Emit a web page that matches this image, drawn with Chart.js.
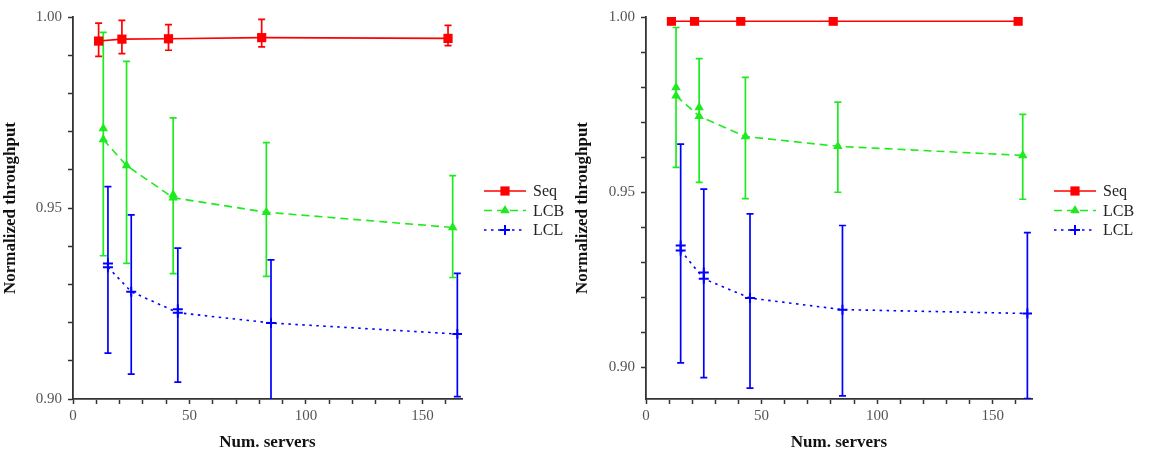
<!DOCTYPE html>
<html>
<head>
<meta charset="utf-8">
<script src="https://cdn.jsdelivr.net/npm/chart.js@4/dist/chart.umd.min.js"></script>
<style>
body{margin:0;background:#fff;width:1149px;height:453px;position:relative;overflow:hidden}
.panel{position:absolute;top:0;width:568px;height:453px}
</style>
</head>
<body>
<div class="panel" style="left:0"><canvas id="left" width="568" height="453"></canvas></div>
<div class="panel" style="left:570px"><canvas id="right" width="568" height="453"></canvas></div>
<script>
// x positions (servers), each series shifted a bit so the error bars don't overlap
const seqX = [11, 21, 41, 81, 161]
const lcbX = [13, 23, 43, 83, 163]
const lclX = [15, 25, 45, 85, 165]
const seriesNames = ['Seq', 'LCB', 'LCL']
const xTicks = [0, 50, 100, 150]

// left panel
const leftSeq = [0.9937, 0.9942, 0.9943, 0.9946, 0.9944]
const leftSeqLo = [0.9897, 0.9904, 0.9913, 0.9922, 0.9925]
const leftSeqHi = [0.9984, 0.9991, 0.9980, 0.9994, 0.9978]
const leftLcb = [0.9679, 0.9611, 0.9527, 0.9489, 0.9449]
const leftLcbExtra = [0.9708, null, 0.9535, null, null]
const leftLcbLo = [0.9375, 0.9355, 0.9328, 0.9321, 0.9318]
const leftLcbHi = [0.9960, 0.9884, 0.9736, 0.9671, 0.9585]
const leftLcl = [0.9345, 0.9281, 0.9226, 0.9199, 0.9170]
const leftLclExtra = [0.9355, null, 0.9235, null, null]
const leftLclLo = [0.9120, 0.9065, 0.9044, 0.8990, 0.9006]
const leftLclHi = [0.9556, 0.9482, 0.9395, 0.9364, 0.9329]

// right panel
const rightSeq = [0.9988, 0.9988, 0.9988, 0.9988, 0.9988]
const rightSeqLo = [0.9986, 0.9986, 0.9986, 0.9986, 0.9986]
const rightSeqHi = [0.9990, 0.9990, 0.9990, 0.9990, 0.9990]
const rightLcb = [0.9775, 0.9717, 0.9659, 0.9631, 0.9605]
const rightLcbExtra = [0.9799, 0.9742, null, null, null]
const rightLcbLo = [0.9571, 0.9528, 0.9482, 0.9500, 0.9480]
const rightLcbHi = [0.9970, 0.9881, 0.9828, 0.9757, 0.9722]
const rightLcl = [0.9334, 0.9253, 0.9198, 0.9165, 0.9154]
const rightLclExtra = [0.9348, 0.9271, null, null, null]
const rightLclLo = [0.9013, 0.8971, 0.8941, 0.8919, 0.8911]
const rightLclHi = [0.9637, 0.9509, 0.9438, 0.9405, 0.9385]

const RED = 'rgb(255,0,0)'
const GREEN = 'rgb(30,235,30)'
const BLUE = 'rgb(0,0,255)'
const FONT = 'Liberation Serif'

function pts(xs, ys) {
    const out = []
    xs.forEach((x, i) => { if (ys[i] != null) out.push({x: x, y: ys[i]}) })
    return out
}

function marker(ctx, style, x, y, r, color) {
    ctx.save()
    ctx.fillStyle = color
    ctx.strokeStyle = color
    ctx.setLineDash([])
    ctx.beginPath()
    if (style === 'rect') {
        const s = r * Math.SQRT1_2
        ctx.rect(x - s, y - s, 2 * s, 2 * s)
        ctx.fill()
    } else if (style === 'triangle') {
        ctx.moveTo(x, y - r)
        ctx.lineTo(x + r * 0.87, y + r * 0.5)
        ctx.lineTo(x - r * 0.87, y + r * 0.5)
        ctx.closePath()
        ctx.fill()
    } else {
        ctx.lineWidth = 2
        ctx.moveTo(x - r, y); ctx.lineTo(x + r, y)
        ctx.moveTo(x, y - r); ctx.lineTo(x, y + r)
        ctx.stroke()
    }
    ctx.restore()
}

const errorBars = {
    id: 'errorBars',
    beforeDatasetsDraw(chart) {
        const ctx = chart.ctx, a = chart.chartArea
        const xs = chart.scales.x, ys = chart.scales.y
        ctx.save()
        ctx.beginPath()
        ctx.rect(a.left, a.top - 10, a.right - a.left, a.bottom - a.top + 10)
        ctx.clip()
        chart.data.datasets.forEach(ds => {
            if (!ds.errLo) return
            ctx.strokeStyle = ds.borderColor
            ctx.lineWidth = 1.7
            ds.xs.forEach((xv, i) => {
                const x = xs.getPixelForValue(xv)
                const y1 = ys.getPixelForValue(ds.errLo[i])
                const y2 = ys.getPixelForValue(ds.errHi[i])
                ctx.beginPath()
                ctx.moveTo(x, y1); ctx.lineTo(x, y2)
                ctx.moveTo(x - 3.5, y1); ctx.lineTo(x + 3.5, y1)
                ctx.moveTo(x - 3.5, y2); ctx.lineTo(x + 3.5, y2)
                ctx.stroke()
            })
        })
        ctx.restore()
    }
}

const lineLegend = {
    id: 'lineLegend',
    afterDraw(chart) {
        const ctx = chart.ctx
        let y = 191
        chart.data.datasets.forEach(ds => {
            if (ds.noLegend) return
            ctx.save()
            ctx.strokeStyle = ds.borderColor
            ctx.lineWidth = 1.6
            ctx.setLineDash(ds.borderDash || [])
            ctx.beginPath()
            ctx.moveTo(484, y); ctx.lineTo(526, y)
            ctx.stroke()
            ctx.restore()
            marker(ctx, ds.pointStyle, 505, y, ds.pointRadius, ds.borderColor)
            ctx.fillStyle = '#222'
            ctx.font = '16px "' + FONT + '"'
            ctx.textBaseline = 'middle'
            ctx.fillText(ds.label, 533, y + 1)
            y += 19.5
        })
    }
}

function series(label, xs, ys, lo, hi, color, style, r, dash) {
    return {
        label: label, xs: xs, errLo: lo, errHi: hi,
        data: pts(xs, ys), showLine: true, borderColor: color, backgroundColor: color,
        borderWidth: 1.6, borderDash: dash, pointStyle: style, pointRadius: r,
        pointBorderWidth: style === 'cross' ? 2 : 0, pointHoverRadius: r
    }
}

function extra(xs, ys, color, style, r) {
    return {
        noLegend: true, data: pts(xs, ys), showLine: false, borderColor: color,
        backgroundColor: color, pointStyle: style, pointRadius: r,
        pointBorderWidth: style === 'cross' ? 2 : 0
    }
}

function makeChart(id, yMin, yWidth, yTitlePad, d) {
    const tickFont = {family: FONT, size: 15}
    const titleFont = {family: FONT, size: 17, weight: 'bold'}
    return new Chart(document.getElementById(id), {
        type: 'scatter',
        data: {
            datasets: [
                series(seriesNames[0], seqX, d.seq, d.seqLo, d.seqHi, RED, 'rect', 6.5, []),
                series(seriesNames[1], lcbX, d.lcb, d.lcbLo, d.lcbHi, GREEN, 'triangle', 5.5, [8, 5]),
                series(seriesNames[2], lclX, d.lcl, d.lclLo, d.lclHi, BLUE, 'cross', 5, [2.5, 4.5]),
                extra(lcbX, d.lcbExtra, GREEN, 'triangle', 5.5),
                extra(lclX, d.lclExtra, BLUE, 'cross', 5)
            ]
        },
        options: {
            responsive: false,
            animation: false,
            layout: {padding: {top: 17, right: 106, left: 0, bottom: 0}},
            plugins: {legend: {display: false}, tooltip: {enabled: false}},
            scales: {
                x: {
                    type: 'linear', min: 0, max: 167,
                    afterFit(s) { s.height = 54 },
                    border: {color: '#333', width: 1.8},
                    grid: {drawOnChartArea: false, tickLength: 5, tickColor: '#333', tickWidth: 1.5},
                    ticks: {
                        stepSize: 10, includeBounds: false, autoSkip: false, maxRotation: 0,
                        padding: 3, font: tickFont, color: '#555',
                        callback: v => xTicks.includes(v) ? String(v) : ''
                    },
                    title: {display: true, text: 'Num. servers', font: titleFont, color: '#111', padding: {top: 0, bottom: 0}}
                },
                y: {
                    type: 'linear', min: yMin, max: 1.0,
                    afterFit(s) { s.width = yWidth },
                    border: {color: '#333', width: 1.8},
                    grid: {drawOnChartArea: false, tickLength: 5, tickColor: '#333', tickWidth: 1.5},
                    ticks: {
                        stepSize: 0.01, includeBounds: false, autoSkip: false,
                        padding: 6, font: tickFont, color: '#555',
                        callback: v => { const h = Math.round(v * 100); return h % 5 === 0 ? (h / 100).toFixed(2) : '' }
                    },
                    title: {display: true, text: 'Normalized throughput', font: titleFont, color: '#111', padding: {top: yTitlePad, bottom: 0}}
                }
            }
        },
        plugins: [errorBars, lineLegend]
    })
}

makeChart('left', 0.90, 73, 0, {
    seq: leftSeq, seqLo: leftSeqLo, seqHi: leftSeqHi,
    lcb: leftLcb, lcbExtra: leftLcbExtra, lcbLo: leftLcbLo, lcbHi: leftLcbHi,
    lcl: leftLcl, lclExtra: leftLclExtra, lclLo: leftLclLo, lclHi: leftLclHi
})
makeChart('right', 0.891, 76, 2, {
    seq: rightSeq, seqLo: rightSeqLo, seqHi: rightSeqHi,
    lcb: rightLcb, lcbExtra: rightLcbExtra, lcbLo: rightLcbLo, lcbHi: rightLcbHi,
    lcl: rightLcl, lclExtra: rightLclExtra, lclLo: rightLclLo, lclHi: rightLclHi
})
</script>
</body>
</html>
